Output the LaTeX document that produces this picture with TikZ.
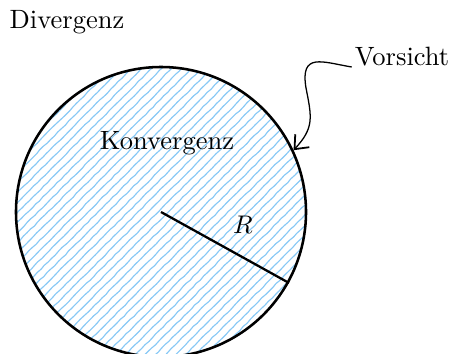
\documentclass[tikz,border=0pt]{standalone}
\usetikzlibrary{arrows.meta,decorations.pathmorphing}
\definecolor{hatchblue}{RGB}{135,200,245}
\tikzset{
  lbl/.style={inner sep=0pt, font=\fontsize{10.4}{12.5}\selectfont},
  hatch/.style={draw=hatchblue, line width=0.45pt,
    decorate, decoration={random steps, segment length=2pt, amplitude=0.15pt}},
  rim/.style={draw, circle, line width=1pt, minimum size=113.8pt, inner sep=0pt},
  radius line/.style={line width=0.9pt},
  pointer/.style={line width=0.5pt, -{Straight Barb[length=4.5pt,width=7.5pt,line width=0.7pt]}}
}
\begin{document}
\begin{tikzpicture}[x=0.3924pt, y=-0.3924pt]
\useasboundingbox (0,0) rectangle (453,353);
\coordinate (ctr) at (161,212);
\begin{scope}
  \clip (ctr) circle[radius=145];
  \foreach \i in {-230,-220,...,460} {
    \draw[hatch] (\i,370) -- ++(330,-330);
  }
\end{scope}
\node[rim] (c) at (ctr) {};
\node[lbl] (div) at (67,22) {Divergenz};
\node[lbl] (konv) at (167,143) {Konvergenz};
\node[lbl] (vor) at (402,57) {Vorsicht};
\node[lbl] (r) at (243,225) {$R$};
\draw[radius line] (c.center) -- (c.-29);
\coordinate (bend) at (306,88);
\draw[pointer] ([xshift=-1pt]vor.south west) .. controls (322,62) and (300,52) .. (bend)
  .. controls (312,118) and (314,128) .. (c.25);
\end{tikzpicture}
\end{document}
